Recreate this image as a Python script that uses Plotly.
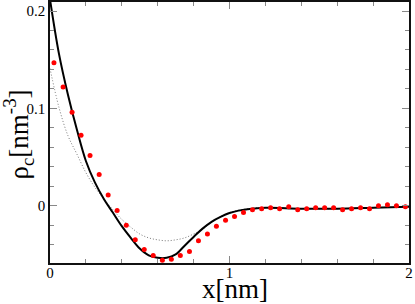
import plotly.graph_objects as go

# solid curve
solid_x = [0.0, 0.05, 0.1, 0.15, 0.2, 0.25, 0.3, 0.35, 0.4, 0.45, 0.5, 0.55, 0.6, 0.65,
           0.7, 0.75, 0.8, 0.85, 0.9, 0.95, 1.0, 1.05, 1.1, 1.2, 1.4, 1.6, 1.8, 2.0]
solid_y = [0.212, 0.156, 0.114, 0.078, 0.046, 0.024, 0.007, -0.007, -0.021, -0.033, -0.044,
           -0.051, -0.0535, -0.0535, -0.050, -0.041, -0.032, -0.0235, -0.0165, -0.0115, -0.0075,
           -0.005, -0.0035, -0.002, -0.003, -0.003, -0.002, -0.001]

# dotted curve
dot_x = [0.0, 0.05, 0.1, 0.15, 0.2, 0.25, 0.3, 0.35, 0.4, 0.45, 0.5, 0.55, 0.6, 0.65,
         0.7, 0.75, 0.8, 0.85, 0.9, 0.95, 1.0, 1.1, 1.2, 1.4, 1.6, 1.8, 2.0]
dot_y = [0.141, 0.101, 0.072, 0.053, 0.034, 0.019, 0.007, -0.004, -0.014, -0.022, -0.029,
         -0.033, -0.035, -0.036, -0.035, -0.033, -0.029, -0.024, -0.017, -0.011, -0.007,
         -0.003, -0.002, -0.003, -0.003, -0.002, -0.001]

# red points
pts_x = [0.022, 0.073, 0.123, 0.173, 0.223, 0.274, 0.324, 0.374, 0.425, 0.475, 0.525, 0.575,
         0.626, 0.676, 0.726, 0.777, 0.827, 0.877, 0.927, 0.978, 1.028, 1.078, 1.128, 1.179,
         1.229, 1.279, 1.33, 1.38, 1.43, 1.48, 1.53, 1.58, 1.63, 1.68, 1.73, 1.78, 1.83, 1.88,
         1.93, 1.98]
pts_y = [0.147, 0.122, 0.096, 0.0725, 0.0515, 0.032, 0.011, -0.005, -0.020, -0.035, -0.045,
         -0.051, -0.056, -0.055, -0.051, -0.047, -0.036, -0.029, -0.021, -0.015, -0.011, -0.007,
         -0.004, -0.003, -0.002, -0.003, -0.001, -0.004, -0.003, -0.002, -0.002, -0.002, -0.004,
         -0.003, -0.002, -0.003, 0.0, 0.001, 0.0, -0.001]

x_title = "x[nm]"
y_title = "ρ<sub>c</sub>[nm<sup>-3</sup>]"

font = "Liberation Serif"

fig = go.Figure()
fig.add_trace(go.Scatter(x=dot_x, y=dot_y, mode="lines",
                         line=dict(color="#777777", width=1, dash="1px,2px", shape="spline")))
fig.add_trace(go.Scatter(x=solid_x, y=solid_y, mode="lines",
                         line=dict(color="black", width=2, shape="spline")))
fig.add_trace(go.Scatter(x=pts_x, y=pts_y, mode="markers", marker=dict(color="red", size=5)))

fig.update_layout(
    width=415, height=304, margin=dict(l=50, r=6, t=2, b=41, autoexpand=False),
    plot_bgcolor="white", paper_bgcolor="white", showlegend=False,
    font=dict(family=font, color="black"),
)
fig.update_xaxes(range=[0, 2], dtick=1, tick0=0, showgrid=False, zeroline=False,
                 automargin=False, tickangle=0, ticklabelstandoff=-5,
                 showline=True, linecolor="#111", linewidth=1.5, mirror="ticks",
                 ticks="inside", ticklen=7, tickcolor="#888", tickfont=dict(size=15, family=font),
                 ticklabeloverflow="allow",
                 minor=dict(dtick=0.2, ticks="inside", ticklen=4, tickcolor="#888", showgrid=False))
fig.update_yaxes(range=[-0.0588, 0.2093], dtick=0.1, tick0=0, showgrid=False, zeroline=False,
                 automargin=False,
                 showline=True, linecolor="#111", linewidth=1.5, mirror="ticks",
                 ticks="inside", ticklen=7, tickcolor="#888", tickfont=dict(size=15, family=font),
                 ticklabeloverflow="allow",
                 minor=dict(dtick=0.02, ticks="inside", ticklen=4, tickcolor="#888", showgrid=False))
fig.add_annotation(text=x_title, xref="paper", yref="paper", x=0.5, y=0, xshift=5, yshift=-26,
                   xanchor="center", yanchor="middle", showarrow=False,
                   font=dict(size=27, family=font))
fig.add_annotation(text=y_title, xref="paper", yref="paper", x=0, y=0.5, xshift=-32, yshift=-2,
                   xanchor="center", yanchor="middle", textangle=-90, showarrow=False,
                   font=dict(size=27, family=font))
fig.write_html("out.html", config={"displayModeBar": False},
               post_script="document.body.style.margin='0';")
